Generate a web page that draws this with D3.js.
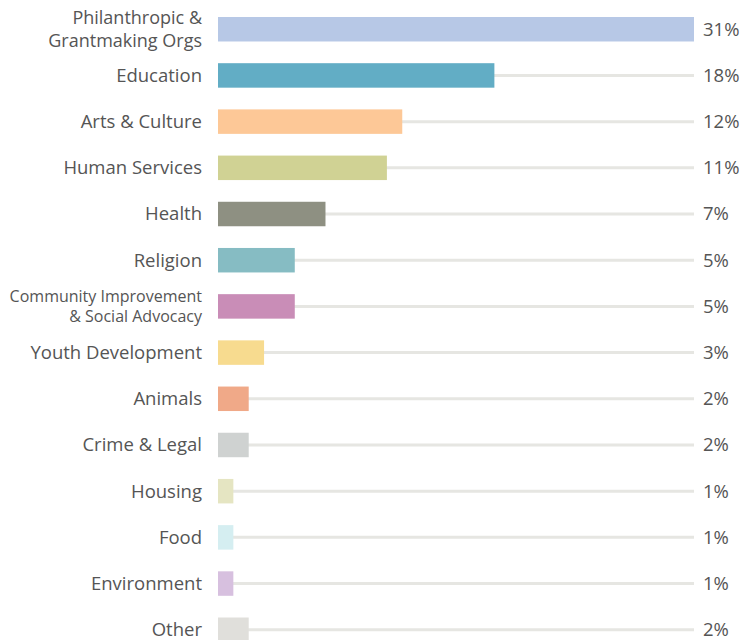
<!DOCTYPE html>
<html>
<head>
<meta charset="utf-8">
<script src="https://cdn.jsdelivr.net/npm/d3@7"></script>
<style>
  body { margin: 0; background: #fff; }
</style>
</head>
<body>
<div id="graph-container"></div>
<script>
const categories = ['Philanthropic &\nGrantmaking Orgs', 'Education', 'Arts & Culture', 'Human Services', 'Health', 'Religion',
  'Community Improvement\n& Social Advocacy', 'Youth Development', 'Animals', 'Crime & Legal', 'Housing', 'Food', 'Environment', 'Other']
const values = [31, 18, 12, 11, 7, 5, 5, 3, 2, 2, 1, 1, 1, 2]
const colors = ['#b7c8e6', '#62adc5', '#fdc897', '#d0d294', '#8e9082', '#86bcc3', '#c98db7',
  '#f7db8f', '#f0a988', '#cfd2d1', '#e5e5c2', '#d5eef1', '#d7c0df', '#e0dfdb']

const main = () => {
  const width = 744
  const height = 640
  const data = categories.map((c, i) => ({ name: c, value: values[i], color: colors[i] }))

  const svg = d3.select('#graph-container').append('svg')
    .attr('width', width)
    .attr('height', height)
    .style('font-family', '"Open Sans", sans-serif')

  const xScale = d3.scaleLinear().domain([0, d3.max(values)]).range([218, 694])
  const yScale = d3.scaleBand().domain(categories).range([17, 642]).paddingInner(0.47).paddingOuter(0)
  const bw = yScale.bandwidth()

  // grey track behind each bar
  svg.selectAll('line.track')
    .data(data)
    .join('line')
    .attr('class', 'track')
    .attr('x1', xScale(0))
    .attr('x2', xScale.range()[1])
    .attr('y1', d => yScale(d.name) + bw / 2)
    .attr('y2', d => yScale(d.name) + bw / 2)
    .attr('stroke', '#e6e6e2')
    .attr('stroke-width', 3)

  svg.selectAll('rect.bar')
    .data(data)
    .join('rect')
    .attr('class', 'bar')
    .attr('x', xScale(0))
    .attr('y', d => yScale(d.name))
    .attr('width', d => xScale(d.value) - xScale(0))
    .attr('height', bw)
    .attr('fill', d => d.color)

  // category labels
  const small = d => d.name.startsWith('Community')
  const twoLine = d => d.name.includes('\n')
  const labels = svg.selectAll('text.cat')
    .data(data)
    .join('text')
    .attr('class', 'cat')
    .attr('x', 202)
    .attr('text-anchor', 'end')
    .attr('fill', '#555')
    .attr('font-size', d => small(d) ? 16 : (twoLine(d) ? 18 : 18.5))

  labels.each(function (d) {
    const lines = d.name.split('\n')
    const cy = yScale(d.name) + bw / 2
    const gap = small(d) ? 20 : 23
    d3.select(this).selectAll('tspan')
      .data(lines)
      .join('tspan')
      .attr('x', 202)
      .attr('y', (l, i) => cy + (i - (lines.length - 1) / 2) * gap)
      .attr('dy', '0.35em')
      .text(l => l)
  })

  // value labels
  svg.selectAll('text.val')
    .data(data)
    .join('text')
    .attr('class', 'val')
    .attr('x', 703)
    .attr('y', d => yScale(d.name) + bw / 2)
    .attr('dy', '0.35em')
    .attr('fill', '#555')
    .attr('font-size', 18.5)
    .text(d => `${d.value}%`)
}

main()
</script>
</body>
</html>
